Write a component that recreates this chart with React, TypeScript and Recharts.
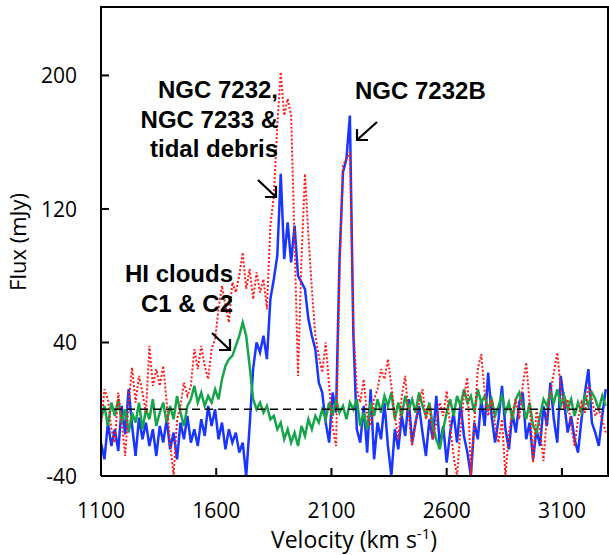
import React from 'react';
import { ComposedChart, Line, XAxis, YAxis, ReferenceLine } from 'recharts';

// Velocity channels (km/s): start and uniform channel width
const VEL_START = 1100;
const VEL_STEP = 15;

// Flux (mJy) per channel
const blueFlux = [
  -20, -30, -8, -22, -12, -25, 2, -15, 12, -10,
  -28, -5, -18, -8, -22, -12, -28, -10, -20, -6,
  -24, -14, -30, -8, -18, -4, -20, -12, -22, -6,
  -16, 2, -10, 0, -18, -8, -24, -12, -20, -14,
  -26, -20, -40, -10, 24, 40, 34, 44, 30, 66,
  78, 92, 141, 90, 112, 88, 110, 80, 76, 72,
  54, 44, 36, 16, 10, -8, -20, 10, -2, 90,
  142, 150, 176, 45, -12, -20, 2, -26, 12, -30,
  -8, -18, 4, -22, -40, -12, -24, -4, -16, 6,
  -20, -8, 2, -14, -28, -6, -18, 8, -22, -10,
  -32, -14, -2, -20, 4, -16, -26, -40, -8, -18,
  6, -10, 22, -4, -20, -6, 14, -12, -24, -2,
  -14, 4, 10, -18, -8, -30, -12, -22, 2, -10,
  16, -6, -20, 20, 4, -14, -4, -18, -26, -6,
  10, 24, -8, -14, -22, -4, 12,
];

const greenFlux = [
  -6, 2, -10, 4, -4, 6, -8, 0, -14, -2,
  -8, 4, -12, 0, -6, 6, -10, -2, 4, -8,
  2, -6, 8, -2, -10, 2, 6, 14, 4, 10,
  2, 8, 4, 12, 6, 18, 26, 30, 32, 38,
  44, 52, 44, 26, 6, 0, 4, -2, 2, -6,
  -4, -12, -8, -18, -12, -20, -14, -22, -10, -16,
  -6, -12, -4, -8, 0, -6, 4, -4, 6, -2,
  2, -6, 4, 0, 6, -10, -2, -12, 4, -4,
  6, -2, 8, 2, 10, -6, 4, -4, 8, 0,
  6, -2, 10, 2, -4, 4, -10, -18, -24, -12,
  -2, 6, -4, 8, 2, 12, 4, 8, -2, 12,
  4, 8, 0, 6, -4, 2, 8, -2, 4, -6,
  6, 10, 2, -6, 4, -10, -14, -4, 6, 2,
  10, 4, 12, 2, 8, 0, 6, -4, 4, -2,
  8, 2, 10, 6, 0, 8, 2,
];

const redFlux = [
  -10, 12, 6, -12, -20, 10, -8, -28, 4, 25,
  4, 20, 10, -2, 38, 14, 24, 14, 26, 4,
  -20, -40, -6, 2, 16, 8, 14, 36, 24, 38,
  26, 18, 36, 42, 60, 74, 62, 52, 76, 70,
  80, 94, 72, 84, 66, 82, 70, 78, 60, 110,
  128, 170, 202, 176, 186, 176, 100, 20, 90, 141,
  104, 72, 44, 32, 22, 40, 14, -10, -22, 80,
  146, 150, 154, 50, 12, 4, 18, -4, -10, 6,
  12, 24, 18, 30, 14, -4, -18, 8, 20, -4,
  -22, -8, 4, 12, -6, 2, -18, -8, 4, -4,
  11, -10, -28, -40, -12, 8, 19, -40, -8, 24,
  33, 10, -4, 6, -10, -20, -6, -40, -14, -2,
  6, -6, 14, 28, 4, -32, 0, -12, -31, -4,
  10, 22, 34, 12, 0, 6, -10, -22, -6, 4,
  -2, 14, 6, -4, 0, -6, -14,
];

const xTicks = [1100, 1600, 2100, 2600, 3100];
const yTicks = [-40, 40, 120, 200];
const xDomain = [1100, 3300];
const yDomain = [-40, 241];

const data = blueFlux.map((b, i) => ({
  v: VEL_START + VEL_STEP * i,
  blue: b,
  green: greenFlux[i],
  red: redFlux[i],
}));

const TICK_FONT = '"Open Sans", "Liberation Sans", sans-serif';
const NOTE_FONT = '"Liberation Sans", Arial, sans-serif';

const YTick = (props: any) => {
  const { x, y, payload } = props;
  return (
    <g>
      <line x1={x} x2={x + 8} y1={y} y2={y} stroke="#000" strokeWidth={2} />
      <text x={x - 24} y={y} dy="0.36em" textAnchor="end" fontFamily={TICK_FONT} fontSize={21} fill="#000">
        {payload.value}
      </text>
    </g>
  );
};

const XTick = (props: any) => {
  const { x, y, payload } = props;
  return (
    <g>
      <line x1={x} x2={x} y1={y} y2={y - 8} stroke="#000" strokeWidth={2} />
      <text x={x} y={y + 42} textAnchor="middle" fontFamily={TICK_FONT} fontSize={21} fill="#000">
        {payload.value}
      </text>
    </g>
  );
};

export default function App() {
  return (
    <div style={{ position: 'absolute', left: 0, top: 0, width: 609, height: 555, background: '#fff' }}>
      <ComposedChart width={609} height={555} data={data} margin={{ top: 7, right: 1, bottom: 0, left: 0 }}>
        <XAxis
          dataKey="v"
          type="number"
          domain={xDomain}
          ticks={xTicks}
          interval={0}
          height={79}
          tickSize={0}
          tickMargin={0}
          tickLine={false}
          axisLine={{ stroke: '#000', strokeWidth: 2 }}
          tick={<XTick />}
          allowDataOverflow
        />
        <YAxis
          type="number"
          domain={yDomain}
          ticks={yTicks}
          interval={0}
          width={101}
          tickSize={0}
          tickMargin={0}
          tickLine={false}
          axisLine={{ stroke: '#000', strokeWidth: 2 }}
          tick={<YTick />}
          allowDataOverflow
        />
        <Line dataKey="blue" type="linear" stroke="#1836ff" strokeWidth={2.5} dot={false} isAnimationActive={false} />
        <Line dataKey="green" type="linear" stroke="#16a54a" strokeWidth={2.5} dot={false} isAnimationActive={false} />
        <Line dataKey="red" type="linear" stroke="#ff1a1a" strokeWidth={2} strokeDasharray="2 2" dot={false} isAnimationActive={false} />
        <ReferenceLine y={0} stroke="#000" strokeWidth={1.5} strokeDasharray="8 5" />
      </ComposedChart>
      <svg width={609} height={555} style={{ position: 'absolute', left: 0, top: 0, pointerEvents: 'none' }}>
        <line x1={100} y1={7} x2={609} y2={7} stroke="#000" strokeWidth={2} />
        <line x1={608} y1={7} x2={608} y2={477} stroke="#000" strokeWidth={2} />
        <text x={354} y={548} textAnchor="middle" fontFamily={TICK_FONT} fontSize={23} fill="#000">
          <tspan>Velocity (km s</tspan>
          <tspan dy={-9} fontSize={15}>-1</tspan>
          <tspan dy={9}>)</tspan>
        </text>
        <text x={0} y={0} transform="translate(26,242) rotate(-90)" textAnchor="middle" fontFamily={TICK_FONT} fontSize={22} fill="#000">
          Flux (mJy)
        </text>
        <g fontFamily={NOTE_FONT} fontWeight="bold" fontSize={24} fill="#000">
          <text x={278} y={98} textAnchor="end">NGC 7232,</text>
          <text x={278} y={127.5} textAnchor="end">NGC 7233 &amp;</text>
          <text x={278} y={157} textAnchor="end">tidal debris</text>
          <text x={355} y={99} textAnchor="start">NGC 7232B</text>
          <text x={233} y={282} textAnchor="end">HI clouds</text>
          <text x={233} y={311.5} textAnchor="end">C1 &amp; C2</text>
        </g>
        <g stroke="#000" strokeWidth={2.2} fill="none">
          <line x1={258} y1={180} x2={276} y2={197} />
          <polyline points="265,197 276,197 276,186" />
          <line x1={377} y1={122} x2={357} y2={140} />
          <polyline points="357,129 357,140 368,140" />
          <line x1={212} y1={333} x2={230} y2={350} />
          <polyline points="219,350 230,350 230,339" />
        </g>
      </svg>
    </div>
  );
}
